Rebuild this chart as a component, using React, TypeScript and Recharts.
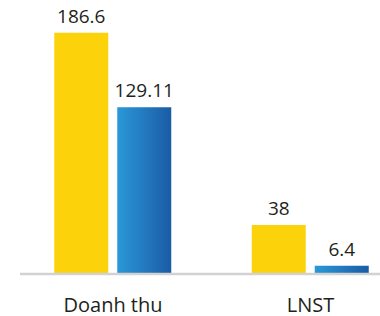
import { BarChart, Bar, XAxis, YAxis, LabelList } from "recharts";

const categories = ["Doanh thu", "LNST"];
const plan = [186.6, 38];
const actual = [129.11, 6.4];

const data = categories.map((name, i) => ({ name, plan: plan[i], actual: actual[i] }));

export default function App() {
  return (
    <div style={{ position: "absolute", left: 0, top: 0, width: 380, height: 316, fontFamily: "'Open Sans', sans-serif", background: "#fff" }}>
      <BarChart
        width={380}
        height={316}
        data={data}
        margin={{ top: 10, right: 0, bottom: 0, left: 20 }}
        barSize={54}
        barGap={9}
      >
        <defs>
          <linearGradient id="blueGrad" x1="0" y1="0" x2="1" y2="0">
            <stop offset="0%" stopColor="#2a98d8" />
            <stop offset="100%" stopColor="#1b5ba6" />
          </linearGradient>
        </defs>
        <XAxis
          dataKey="name"
          height={42}
          padding={{ left: -5.75, right: -29.25 }}
          tickLine={false}
          tickSize={0}
          tickMargin={24}
          axisLine={{ stroke: "#d2d2d2", strokeWidth: 2.5 }}
          tick={{ fill: "#231f20", fontSize: 20 }}
        />
        <YAxis hide domain={[0, 204.3]} />
        <Bar dataKey="plan" fill="#fcd20b" isAnimationActive={false}>
          <LabelList dataKey="plan" position="top" offset={10} fill="#231f20" fontSize={19} />
        </Bar>
        <Bar dataKey="actual" fill="url(#blueGrad)" isAnimationActive={false}>
          <LabelList dataKey="actual" position="top" offset={10} fill="#231f20" fontSize={19} />
        </Bar>
      </BarChart>
    </div>
  );
}
